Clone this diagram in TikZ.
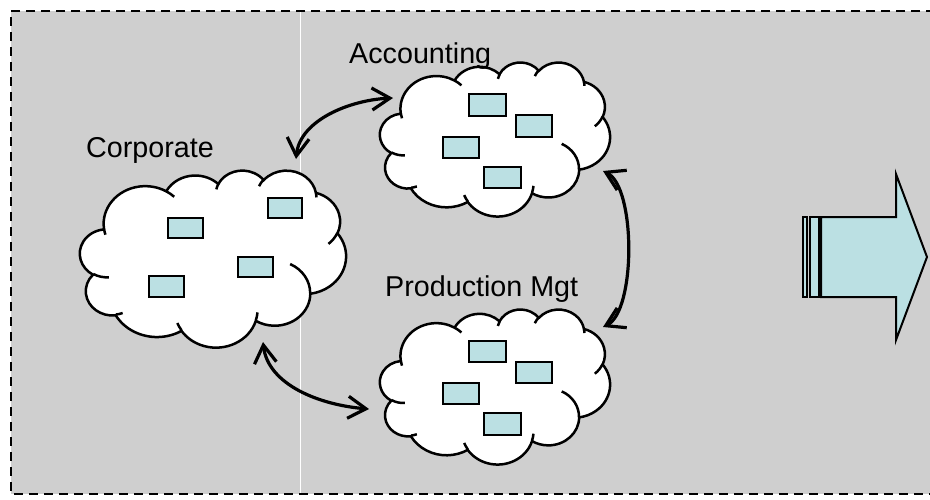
\documentclass[tikz,border=0pt]{standalone}
\usepackage{fontspec}
\setmainfont{Liberation Sans}
\usetikzlibrary{arrows.meta}
\definecolor{bggray}{RGB}{207,207,207}
\definecolor{boxblue}{RGB}{187,224,227}

% OOXML-style elliptic arc: wR, hR, start angle (visual), sweep (visual)
\newcommand\ooarc[4]{arc[x radius=#1, y radius=#2,
  start angle={atan2((#1)*sin(#3),(#2)*cos(#3))},
  delta angle={mod(atan2((#1)*sin((#3)+(#4)),(#2)*cos((#3)+(#4)))-atan2((#1)*sin(#3),(#2)*cos(#3))+720,360)}]}

\newcommand\drawcloud[5]{%
  \pgfmathsetmacro\cxu{#4/43.2}\pgfmathsetmacro\cyu{#5/43.2}%
  \begin{scope}[shift={(#2,#3)}, x=\cxu pt, y=-\cyu pt]
    \filldraw[cloudline, fill=white] (3.900,14.370)
      \ooarc{6.753}{9.190}{-190.4875}{123.7805}
      \ooarc{5.333}{7.267}{-144.1024}{89.9452}
      \ooarc{4.365}{5.945}{-145.8079}{99.7230}
      \ooarc{4.857}{6.595}{-130.9861}{117.2417}
      \ooarc{5.333}{7.273}{-78.7089}{109.0269}
      \ooarc{6.775}{9.220}{-46.2673}{130.2690}
      \ooarc{5.785}{7.867}{0.6250}{114.0333}
      \ooarc{6.752}{9.215}{22.4516}{115.1726}
      \ooarc{7.720}{10.543}{66.2426}{75.7110}
      \ooarc{4.360}{5.918}{-274.9421}{146.7356}
      \ooarc{4.345}{5.945}{-246.8285}{152.5189}
      -- cycle;
    \draw[cloudline]
      (4.693,26.177) \ooarc{4.345}{5.945}{86.7420}{26.4295}
      (6.928,34.899) \ooarc{4.360}{5.918}{73.6105}{11.4475}
      (16.478,39.090) \ooarc{6.752}{9.215}{137.6242}{14.0811}
      (28.827,34.751) \ooarc{6.752}{9.215}{6.4533}{15.9984}
      (34.129,22.954) \ooarc{5.785}{7.867}{-70.2924}{70.9174}
      (41.798,15.354) \ooarc{5.333}{7.273}{30.3180}{27.7515}
      (38.324,5.426) \ooarc{4.857}{6.595}{-13.7443}{14.8589}
      (29.078,3.952) \ooarc{4.857}{6.595}{-149.1815}{18.1954}
      (22.141,4.720) \ooarc{4.365}{5.945}{-163.4943}{17.6864}
      (14.000,5.192) \ooarc{6.753}{9.190}{-66.7070}{12.3194}
      (4.127,15.789) \ooarc{6.753}{9.190}{157.6544}{11.8582};
    \coordinate (#1) at (21.6,21.6);
  \end{scope}}

\tikzset{
  cloudline/.style={draw=black, line width=2.5pt},
  bx/.style={draw=black, fill=boxblue, line width=2pt},
  lbl/.style={inner sep=0pt, font=\fontsize{28.7}{34}\selectfont, anchor=base west},
  conn/.style={line width=3.2pt, {Straight Barb[length=18pt,width=22pt]}-{Straight Barb[length=18pt,width=22pt]}},
  bigarrow/.style={draw=black, fill=boxblue, line width=2pt, line join=miter}
}

\begin{document}
\begin{tikzpicture}[x=1pt, y=-1pt]
\useasboundingbox (0,0) rectangle (930,499);
% background panel
\fill[bggray] (11,11) rectangle (935,494);
\draw[white, line width=1pt] (300,12) -- (300,493);
\draw[line width=2.3pt, dash pattern=on 9pt off 6pt] (935,11) -- (11,11) -- (11,494) -- (935,494);

% clouds
\drawcloud{corp}{80}{170}{266}{177}
\drawcloud{acc}{380}{62}{230}{154}
\drawcloud{prod}{380}{309}{230}{155}

% boxes in Corporate
\draw[bx] (168,218) rectangle (203,238);
\draw[bx] (268,198) rectangle (302,218);
\draw[bx] (238,257) rectangle (273,277);
\draw[bx] (149,276) rectangle (184,297);
% boxes in Accounting
\draw[bx] (469,94) rectangle (506,116);
\draw[bx] (516,115) rectangle (552,137);
\draw[bx] (443,137) rectangle (479,158);
\draw[bx] (484,167) rectangle (521,188);
% boxes in Production
\draw[bx] (469,341) rectangle (506,362);
\draw[bx] (516,362) rectangle (552,383);
\draw[bx] (443,383) rectangle (479,404);
\draw[bx] (484,413) rectangle (521,435);

% labels
\node[lbl] (tcorp) at (86,157) {Corporate};
\node[lbl] (tacc) at (349,63) {Accounting};
\node[lbl] (tprod) at (385,296) {Production Mgt};

% connectors
\coordinate (corpT) at (296,159);
\coordinate (accL) at (393,98);
\coordinate (corpB) at (263,342);
\coordinate (prodL) at (369,409);
\coordinate (accR) at (603,171);
\coordinate (prodR) at (603,327);
\draw[conn] (corpT) .. controls (300,120) and (350,100) .. (accL);
\draw[conn] (corpB) .. controls (268,385) and (320,405) .. (prodL);
\draw[conn] (accR) .. controls (636,187) and (636,311) .. (prodR);

% striped right arrow
\draw[bigarrow] (821,217) -- (896,217) -- (896,174) -- (927,257) -- (896,340) -- (896,297) -- (821,297) -- cycle;
\draw[bigarrow] (803,217) rectangle (807,297);
\draw[bigarrow] (810,217) rectangle (819,297);
\end{tikzpicture}
\end{document}
